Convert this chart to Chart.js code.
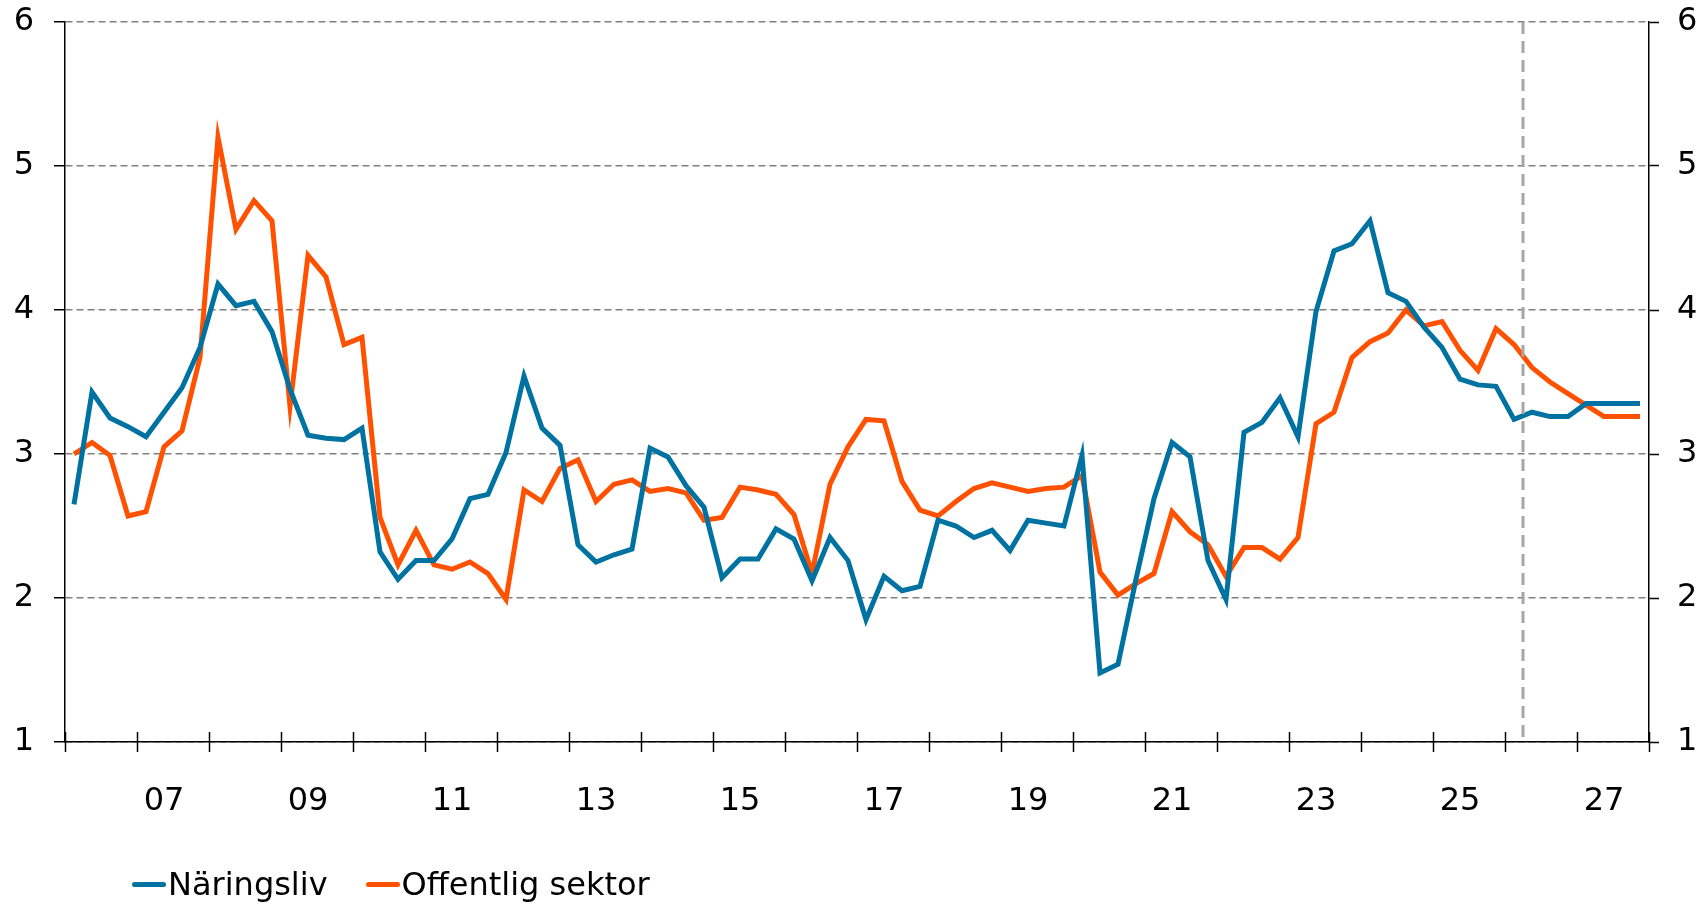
<!DOCTYPE html>
<html>
<head>
<meta charset="utf-8">
<script src="https://cdn.jsdelivr.net/npm/chart.js"></script>
<style>
  body { margin: 0; background: #fff; }
  #wrap { position: relative; width: 1701px; height: 903px; }
  #legend { position: absolute; left: 132px; top: 864px; display: flex;
            font-family: "DejaVu Sans", sans-serif; font-size: 32px; color: #000; line-height: 40px; }
  .item { display: flex; align-items: center; margin-right: 38px; }
  .swatch { width: 34px; height: 5px; border-radius: 2.5px; margin-right: 2px; }
</style>
</head>
<body>
<div id="wrap">
  <canvas id="chart" width="1701" height="903"></canvas>
  <div id="legend"></div>
</div>
<script>
    // Years shown on the x axis, quarterly data
    const years = [2006, 2007, 2008, 2009, 2010, 2011, 2012, 2013, 2014, 2015, 2016,
                   2017, 2018, 2019, 2020, 2021, 2022, 2023, 2024, 2025, 2026, 2027];
    const tickLabels = ['07', '09', '11', '13', '15', '17', '19', '21', '23', '25', '27'];
    const quarters = years.flatMap(y => ['K1', 'K2', 'K3', 'K4'].map(q => y + q));
    const forecastStart = '2026K2';

    const naringsliv = [
        2.65, 3.43, 3.25, 3.19, 3.12, 3.29, 3.46, 3.74, 4.18, 4.03, 4.06, 3.85, 3.45, 3.13, 3.11,
        3.10, 3.18, 2.32, 2.13, 2.26, 2.26, 2.41, 2.69, 2.72, 3.01, 3.54, 3.18, 3.06, 2.37,
        2.25, 2.30, 2.34, 3.04, 2.98, 2.78, 2.63, 2.14, 2.27, 2.27, 2.48, 2.41, 2.12, 2.42, 2.26,
        1.85, 2.15, 2.05, 2.08, 2.54, 2.50, 2.42, 2.47, 2.33, 2.54, 2.52, 2.50, 2.99, 1.48,
        1.54, 2.13, 2.69, 3.08, 2.98, 2.26, 1.99, 3.15, 3.22, 3.39, 3.12, 3.99, 4.41, 4.46, 4.62,
        4.12, 4.06, 3.88, 3.74, 3.52, 3.48, 3.47, 3.24, 3.29, 3.26, 3.26, 3.35, 3.35, 3.35, 3.35
    ];
    const offentlig = [
        3.00, 3.08, 2.99, 2.57, 2.60, 3.05, 3.16, 3.67, 5.20, 4.56, 4.76, 4.62, 3.33, 4.38, 4.23,
        3.76, 3.81, 2.56, 2.23, 2.47, 2.23, 2.20, 2.25, 2.17, 1.99, 2.75, 2.67, 2.90, 2.96,
        2.67, 2.79, 2.82, 2.74, 2.76, 2.73, 2.54, 2.56, 2.77, 2.75, 2.72, 2.58, 2.17, 2.79, 3.05,
        3.24, 3.23, 2.81, 2.61, 2.57, 2.67, 2.76, 2.80, 2.77, 2.74, 2.76, 2.77, 2.85, 2.18,
        2.02, 2.10, 2.17, 2.60, 2.46, 2.37, 2.15, 2.35, 2.35, 2.27, 2.42, 3.21, 3.29, 3.67, 3.78,
        3.84, 4.00, 3.89, 3.92, 3.72, 3.58, 3.87, 3.76, 3.60, 3.50, 3.42, 3.34, 3.26, 3.26, 3.26
    ];

    const blue = '#0072a1';
    const orange = '#ff5100';

    // quarter i sits in the middle of its slot [i, i+1]
    const toPoints = arr => arr.map((v, i) => ({ x: i + 0.5, y: v }));

    Chart.defaults.font.family = '"DejaVu Sans", sans-serif';
    Chart.defaults.font.size = 32;
    Chart.defaults.color = '#000';

    // year tick marks crossing the x axis + dashed forecast line
    const yearMarks = {
        id: 'yearMarks',
        afterDatasetsDraw(chart) {
            const { ctx, chartArea, scales: { x } } = chart;
            ctx.save();
            const fx = x.getPixelForValue(quarters.indexOf(forecastStart));
            ctx.strokeStyle = '#a6a6a6';
            ctx.lineWidth = 3;
            ctx.setLineDash([12, 7]);
            ctx.beginPath();
            ctx.moveTo(fx, chartArea.top);
            ctx.lineTo(fx, chartArea.bottom - 2);
            ctx.stroke();

            ctx.setLineDash([]);
            ctx.strokeStyle = '#000';
            ctx.lineWidth = 1.5;
            for (let k = 0; k <= years.length; k++) {
                const px = Math.round(x.getPixelForValue(k * 4)) + 0.5;
                ctx.beginPath();
                ctx.moveTo(px, chartArea.bottom - 10);
                ctx.lineTo(px, chartArea.bottom + 10);
                ctx.stroke();
            }
            ctx.restore();
        }
    };

    // fixed axis sizes so the plot area lands where the original has it
    const fitY = w => scale => {
        scale.width = w;
        scale.paddingTop = 0;
        scale.paddingBottom = 0;
    };

    const ctx = document.getElementById('chart').getContext('2d');
    const chart = new Chart(ctx, {
        type: 'line',
        data: {
            datasets: [
                {
                    label: 'Näringsliv',
                    data: toPoints(naringsliv),
                    borderColor: blue,
                    backgroundColor: blue,
                    borderWidth: 5,
                    pointRadius: 0,
                    tension: 0,
                    yAxisID: 'y'
                },
                {
                    label: 'Offentlig sektor',
                    data: toPoints(offentlig),
                    borderColor: orange,
                    backgroundColor: orange,
                    borderWidth: 5,
                    pointRadius: 0,
                    tension: 0,
                    yAxisID: 'y'
                }
            ]
        },
        options: {
            responsive: false,
            animation: false,
            layout: { padding: { top: 22 } },
            plugins: {
                legend: { display: false },
                tooltip: { enabled: false }
            },
            scales: {
                x: {
                    type: 'linear',
                    min: 0,
                    max: quarters.length,
                    afterBuildTicks: scale => {
                        // label sits at the second quarter of every other year
                        scale.ticks = tickLabels.map(t => ({
                            value: years.indexOf(2000 + Number(t)) * 4 + 1.5
                        }));
                    },
                    ticks: {
                        autoSkip: false,
                        maxRotation: 0,
                        padding: 40,
                        callback: function(value) {
                            const y = years[Math.floor(value / 4)];
                            return String(y).slice(2);
                        }
                    },
                    grid: { drawOnChartArea: false, drawTicks: false },
                    border: { color: '#000', width: 1.5 },
                    afterFit: scale => {
                        scale.height = 161;
                        scale.paddingLeft = 0;
                        scale.paddingRight = 0;
                    }
                },
                y: {
                    position: 'left',
                    min: 1,
                    max: 6,
                    ticks: { stepSize: 1, padding: 20 },
                    grid: {
                        color: '#808080',
                        lineWidth: 1.5,
                        tickLength: 11,
                        tickColor: '#000',
                        tickWidth: 1.5
                    },
                    border: { color: '#000', width: 1.5, dash: [7, 4] },
                    afterFit: fitY(65)
                },
                y2: {
                    position: 'right',
                    min: 1,
                    max: 6,
                    ticks: { stepSize: 1, padding: 18 },
                    grid: {
                        drawOnChartArea: false,
                        tickLength: 10,
                        tickColor: '#000',
                        tickWidth: 1.5
                    },
                    border: { color: '#000', width: 1.5 },
                    afterFit: fitY(52)
                }
            }
        },
        plugins: [yearMarks]
    });

    // legend as html below the chart
    const legend = document.getElementById('legend');
    chart.data.datasets.forEach(ds => {
        const item = document.createElement('div');
        item.className = 'item';
        const sw = document.createElement('span');
        sw.className = 'swatch';
        sw.style.background = ds.borderColor;
        const txt = document.createElement('span');
        txt.textContent = ds.label;
        item.appendChild(sw);
        item.appendChild(txt);
        legend.appendChild(item);
    });
</script>
</body>
</html>
